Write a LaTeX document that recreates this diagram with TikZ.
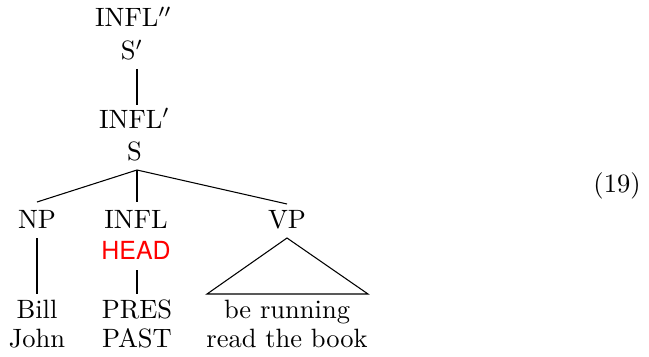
\documentclass[tikz,border=0pt]{standalone}
\usepackage{fontspec}
\newfontfamily\headfont{TeX Gyre Heros}
\begin{document}
\begin{tikzpicture}[x=0.3774pt,y=-0.3774pt,
  lbl/.style={inner sep=0pt,anchor=base},
  edge/.style={line width=0.4pt}]
\useasboundingbox (0,0) rectangle (649,356);
% labels
\node[lbl] (infl2) at (133.5,27) {INFL$''$};
\node[lbl] (sp) at (132,60) {S$'$};
\node[lbl] (infl1) at (134.5,128) {INFL$'$};
\node[lbl] (s) at (134.5,160) {S};
\node[lbl] (np) at (37,228) {NP};
\node[lbl] (infl) at (136,228) {INFL};
\node[lbl,text=red] (head) at (136,259) {\headfont\fontsize{9.4pt}{11pt}\selectfont HEAD};
\node[lbl] (vp) at (287,228) {VP};
\node[lbl] (bill) at (37,318) {Bill};
\node[lbl] (john) at (37,347) {John};
\node[lbl] (pres) at (137,318) {PRES};
\node[lbl] (past) at (137,347) {PAST};
\node[lbl] (berun) at (287,318) {be running};
\node[lbl] (read) at (287,347) {read the book};
\node[lbl] (num) at (617,192) {(19)};
% attachment points
\coordinate (sp-b) at (137,69);
\coordinate (infl1-t) at (137,105);
\coordinate (s-b) at (137,170);
\coordinate (np-t) at (37,202);
\coordinate (infl-t) at (137,202);
\coordinate (vp-t) at (287,204);
\coordinate (np-b) at (37,238);
\coordinate (bill-t) at (37,294);
\coordinate (head-b) at (137,270);
\coordinate (pres-t) at (137,294);
\coordinate (vp-b) at (287,238);
\coordinate (tri-l) at (207,294);
\coordinate (tri-r) at (368,294);
% edges
\draw[edge] (sp-b) -- (infl1-t);
\draw[edge] (s-b) -- (np-t);
\draw[edge] (s-b) -- (infl-t);
\draw[edge] (s-b) -- (vp-t);
\draw[edge] (np-b) -- (bill-t);
\draw[edge] (head-b) -- (pres-t);
\draw[edge] (vp-b) -- (tri-l) -- (tri-r) -- cycle;
\end{tikzpicture}
\end{document}
